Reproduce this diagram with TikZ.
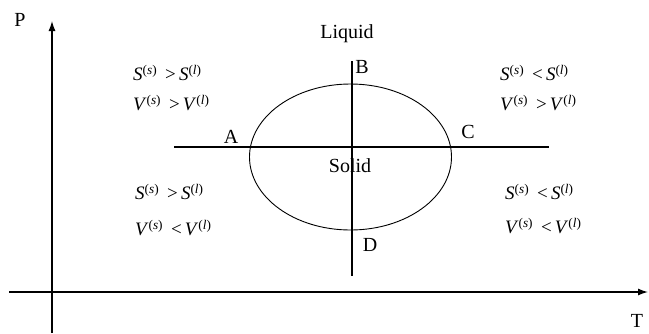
\documentclass[tikz,border=0pt]{standalone}
\usepackage{fontspec}
\setmainfont{Liberation Serif}
\usetikzlibrary{arrows.meta}
\newcommand{\ph}[2]{\textit{#1}\textsuperscript{(\textit{#2})}}
\begin{document}
\begin{tikzpicture}[x=1pt, y=-1pt, font=\fontsize{20}{22}\selectfont, >={Latex[length=10pt,width=7pt]}]
  \tikzset{ineq/.style={anchor=west, inner xsep=0pt, font=\fontsize{19}{21}\selectfont}}
  \useasboundingbox (0,0) rectangle (649,333);
  % axes
  \coordinate (pbot) at (52,333); \coordinate (ptop) at (52,21);
  \coordinate (tleft) at (9,292); \coordinate (tright) at (648,292);
  \draw[->, line width=1.3pt] (pbot) -- (ptop);
  \draw[->, line width=1.3pt] (tleft) -- (tright);
  \node (p) at (20,20) {P};
  \node (t) at (637,321) {T};
  % coexistence lines and ellipse
  \coordinate (hl) at (174,147); \coordinate (hr) at (549,147);
  \coordinate (vt) at (352,61); \coordinate (vb) at (352,276);
  \draw[line width=1.2pt] (hl) -- (hr);
  \draw[line width=1.2pt] (vt) -- (vb);
  \draw[line width=0.9pt] (350.5,157) ellipse (101 and 73);
  \node (liq) at (347,34) {Liquid};
  \node (sol) at (350,166) {Solid};
  \node (a) at (231,137) {A};
  \node (b) at (362,67) {B};
  \node (c) at (468,132) {C};
  \node (d) at (370,245) {D};
  % inequalities
  \node[ineq] (s1) at (133,73) {\ph{S}{s}\, >\,\ph{S}{l}};
  \node[ineq] (v1) at (133,103) {\ph{V}{s}\, >\,\ph{V}{l}};
  \node[ineq] (s2) at (500,73) {\ph{S}{s}\, <\,\ph{S}{l}};
  \node[ineq] (v2) at (500,103) {\ph{V}{s}\, >\,\ph{V}{l}};
  \node[ineq] (s3) at (135,192) {\ph{S}{s}\, >\,\ph{S}{l}};
  \node[ineq] (v3) at (135,228) {\ph{V}{s}\, <\,\ph{V}{l}};
  \node[ineq] (s4) at (505,192) {\ph{S}{s}\, <\,\ph{S}{l}};
  \node[ineq] (v4) at (505,226) {\ph{V}{s}\, <\,\ph{V}{l}};
\end{tikzpicture}
\end{document}
